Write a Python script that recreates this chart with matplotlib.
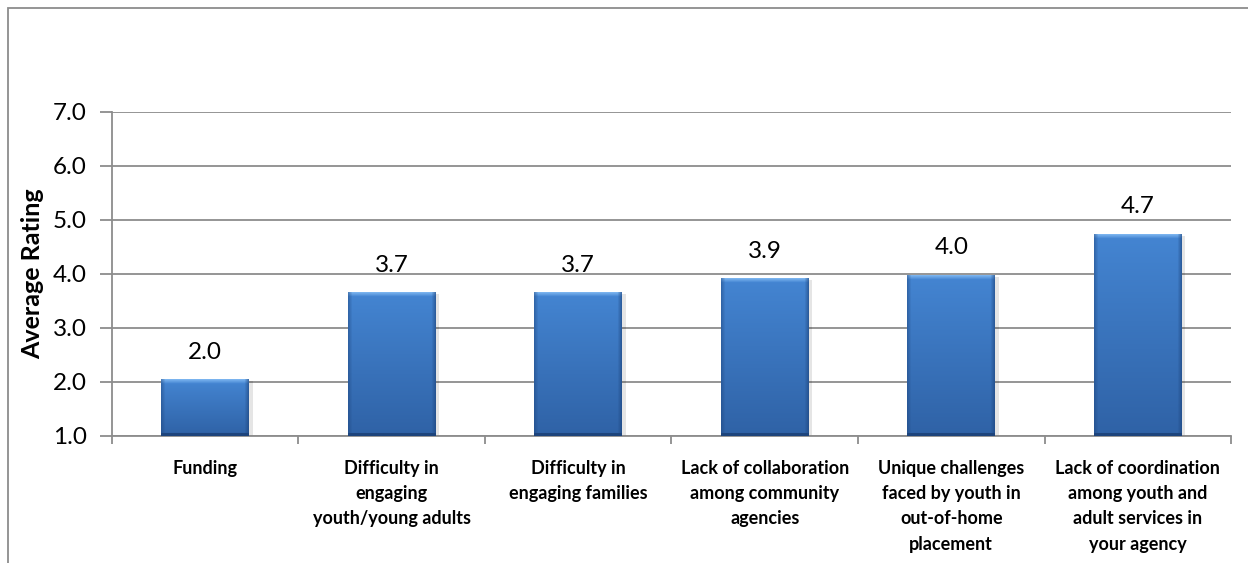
import numpy as np
import matplotlib
matplotlib.use("Agg")
import matplotlib.pyplot as plt
from matplotlib.patches import Rectangle
from matplotlib.colors import to_rgb

plt.rcParams["font.family"] = ["Lato", "DejaVu Sans"]

categories = [
    "Funding",
    "Difficulty in\nengaging\nyouth/young adults",
    "Difficulty in\nengaging families",
    "Lack of collaboration\namong community\nagencies",
    "Unique challenges\nfaced by youth in\nout-of-home\nplacement",
    "Lack of coordination\namong youth and\nadult services in\nyour agency",
]
ratings = [2.04, 3.66, 3.66, 3.91, 3.98, 4.74]
y_ticks = [1.0, 2.0, 3.0, 4.0, 5.0, 6.0, 7.0]

grid_col = "#8c8c8c"
top_col = np.array(to_rgb("#4485d2"))
bot_col = np.array(to_rgb("#2f62a6"))
hi_col = np.array(to_rgb("#7ab3ee"))
edge_col = np.array(to_rgb("#1d447c"))


def bar_image(h_px, w_px, bevel=5):
    # vertical gradient face with a small bevel on the edges (sizes in pixels)
    h_px = max(int(h_px), 2 * bevel + 2)
    w_px = int(w_px)
    t = np.linspace(0, 1, h_px)[:, None, None]
    img = top_col * (1 - t) + bot_col * t
    img = np.repeat(img, w_px, axis=1)
    ramp = np.linspace(1, 0, bevel)[:, None, None]
    img[:bevel, :, :] = hi_col * ramp + top_col * (1 - ramp)
    side = np.linspace(0.45, 0.0, bevel)[None, :, None]
    img[:, :bevel, :] = img[:, :bevel, :] * (1 - side) + edge_col * side
    side_r = side[:, ::-1, :] * 1.3
    img[:, -bevel:, :] = img[:, -bevel:, :] * (1 - side_r) + edge_col * side_r
    img[-3:, :, :] = edge_col
    return img


fig = plt.figure(figsize=(12.48, 5.63), dpi=100)
ax = fig.add_axes([0.0897, 0.2256, 0.8967, 0.5755])

x = np.arange(len(categories))
width = 0.47
bars = ax.bar(x, ratings, width=width, bottom=0, color="none", zorder=3)
ax.set_xlim(-0.5, len(categories) - 0.5)
ax.set_ylim(1.0, 7.0)

ax_w_px = 0.8967 * 1248
ax_h_px = 0.5755 * 563
for b in bars:
    x0 = b.get_x()
    x1 = x0 + b.get_width()
    top = b.get_height()
    h_px = (top - 1.0) / 6.0 * ax_h_px
    w_px = b.get_width() / len(categories) * ax_w_px
    # soft shadow
    ax.add_patch(Rectangle((x0 + 0.02, 1.0), b.get_width(), top - 1.0 - 0.03,
                           facecolor="#000000", alpha=0.10, lw=0, zorder=2))
    ax.imshow(bar_image(h_px, w_px), extent=(x0, x1, 1.0, top), aspect="auto",
              zorder=3, interpolation="bilinear")
    ax.annotate(f"{top:.1f}", (b.get_x() + b.get_width() / 2, top),
                xytext=(0, 12), textcoords="offset points",
                ha="center", va="bottom", fontsize=17.5, color="#000000")

ax.set_xlim(-0.5, len(categories) - 0.5)
ax.set_ylim(1.0, 7.0)

ax.set_yticks(y_ticks)
ax.set_yticklabels([f"{v:.1f}" for v in y_ticks], fontsize=17.5)
ax.yaxis.grid(True, color=grid_col, linewidth=1.3, zorder=0)
ax.set_axisbelow(True)

ax.set_xticks(x)
ax.set_xticklabels(categories, fontsize=13, fontweight="bold", linespacing=1.6,
                   va="top")
ax.set_xticks(np.arange(len(categories) + 1) - 0.5, minor=True)
ax.tick_params(axis="x", which="major", length=0, pad=17)
ax.tick_params(axis="x", which="minor", length=6, color=grid_col, width=1.3)
ax.tick_params(axis="y", length=9, color=grid_col, width=1.3, pad=9)

for side in ["top", "right"]:
    ax.spines[side].set_visible(False)
for side in ["left", "bottom"]:
    ax.spines[side].set_color(grid_col)
    ax.spines[side].set_linewidth(1.3)

ax.set_ylabel("Average Rating", fontsize=18, fontweight="bold", labelpad=6)

# outer chart border (cut off at right and bottom like the source)
fig.patches.append(Rectangle((8 / 1248, -0.05), 1.1, 1 - 8 / 563 + 0.05,
                             transform=fig.transFigure, fill=False,
                             edgecolor="#8c8c8c", linewidth=1.3))

fig.savefig("out.png", dpi=100)
